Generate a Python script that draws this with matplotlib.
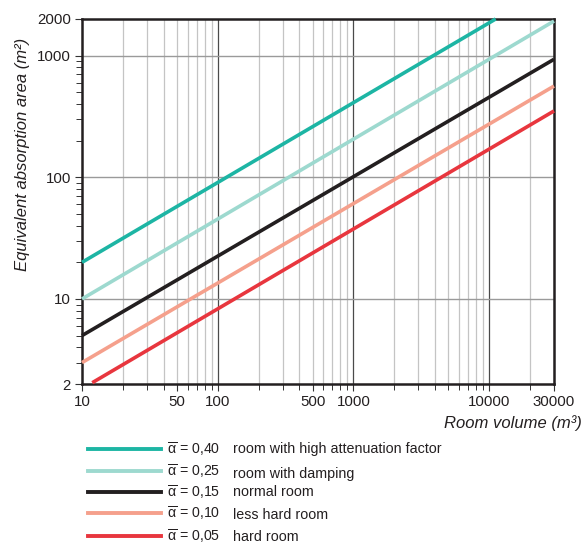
import matplotlib
matplotlib.use("Agg")
import matplotlib.pyplot as plt
from matplotlib.ticker import FixedLocator, NullFormatter
import numpy as np

plt.rcParams['font.family'] = ['Liberation Sans', 'DejaVu Sans']
plt.rcParams['mathtext.fontset'] = 'custom'
plt.rcParams['mathtext.rm'] = 'Liberation Sans'
plt.rcParams['mathtext.it'] = 'Liberation Sans:italic'

# Data (straight lines on log-log axes: start and end points)
alphas = ["0,40", "0,25", "0,15", "0,10", "0,05"]
descriptions = ["room with high attenuation factor", "room with damping",
                "normal room", "less hard room", "hard room"]
volume_start = [10, 10, 10, 10, 11.9]
area_start = [20, 10, 5, 3, 2.05]
volume_end = [11150, 30000, 30000, 30000, 30000]
area_end = [2000, 1923, 933, 562, 351]
colors = ["#1db5a4", "#9dd9cf", "#231f20", "#f5a08c", "#e8363e"]

x_ticks = [10, 50, 100, 500, 1000, 10000, 30000]
x_ticklabels = ["10", "50", "100", "500", "1000", "10000", "30000"]
y_ticks = [2, 10, 100, 1000, 2000]
y_ticklabels = ["2", "10", "100", "1000", "2000"]

fig = plt.figure(figsize=(5.86, 5.46), dpi=100)
ax = fig.add_axes([82/586, 1-384/546, (554-82)/586, (384-19)/546])
ax.set_xscale('log')
ax.set_yscale('log')
ax.set_xlim(10, 30000)
ax.set_ylim(2, 2000)

# grids
minor_x = [m * 10**e for e in range(1, 5) for m in range(2, 10) if m * 10**e <= 30000]
for v in minor_x:
    ax.axvline(v, color="#c4c4c4", lw=0.9, zorder=1)
for v in [100, 1000, 10000]:
    ax.axvline(v, color="#4a4a4a", lw=0.9, zorder=1)
for v in [10, 100, 1000]:
    ax.axhline(v, color="#9a9a9a", lw=1.0, zorder=1)

for i in range(len(alphas)):
    ax.plot([volume_start[i], volume_end[i]], [area_start[i], area_end[i]],
            color=colors[i], lw=2.6, solid_capstyle='butt', zorder=3, clip_on=False)

ax.xaxis.set_major_locator(FixedLocator(x_ticks))
ax.set_xticklabels(x_ticklabels)
ax.xaxis.set_minor_locator(FixedLocator(minor_x))
ax.xaxis.set_minor_formatter(NullFormatter())
ax.yaxis.set_major_locator(FixedLocator(y_ticks))
ax.set_yticklabels(y_ticklabels)
minor_y = [m * 10**e for e in range(0, 3) for m in range(3, 10)] + [20, 200]
minor_y = [v for v in minor_y if 2 < v < 2000 and v not in y_ticks]
ax.yaxis.set_minor_locator(FixedLocator(minor_y))
ax.yaxis.set_minor_formatter(NullFormatter())

ax.tick_params(which='major', direction='out', length=5, width=0.8, color="#333333",
               labelsize=10.8, labelcolor="#231f20", pad=3)
ax.tick_params(which='minor', direction='out', length=4, width=0.7, color="#333333")
for s in ax.spines.values():
    s.set_linewidth(1.8)
    s.set_color("#231f20")

fig.text(582/586, 1-423/546, "Room volume (m³)", ha='right', va='center',
         fontsize=12, style='italic', color="#231f20")
fig.text(23/586, 1-154/546, "Equivalent absorption area (m²)", ha='center', va='center',
         rotation=90, fontsize=12, style='italic', color="#231f20")

# custom legend below
rows_y = [449, 471, 492, 513, 536]
desc_dy = [0, 3, 0, 2, 1]
for i in range(len(alphas)):
    y = 1 - rows_y[i]/546
    fig.add_artist(plt.Line2D([88/586, 161/586], [y, y], color=colors[i], lw=2.8,
                              transform=fig.transFigure))
    fig.text(167/586, y, r"$\overline{\mathrm{\alpha}}$ = " + alphas[i], ha='left', va='center',
             fontsize=10.2, color="#231f20")
    fig.text(233/586, 1 - (rows_y[i] + desc_dy[i])/546, descriptions[i], ha='left',
             va='center', fontsize=10.3, color="#231f20")

fig.savefig("out.png", dpi=100)
